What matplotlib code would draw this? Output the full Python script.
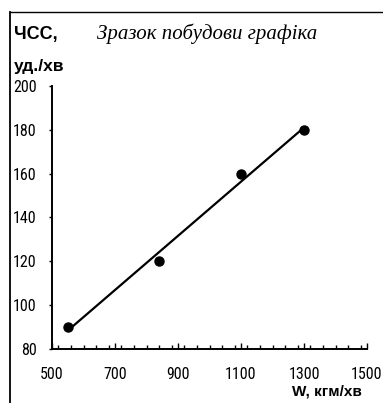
import numpy as np
import matplotlib
matplotlib.use("Agg")
import matplotlib.pyplot as plt
from matplotlib.lines import Line2D
from matplotlib.ticker import MultipleLocator

# Data
work = [550, 840, 1100, 1300]          # W, кгм/хв
hr = [90, 120, 160, 180]               # ЧСС, уд./хв
x_ticks = [500, 700, 900, 1100, 1300, 1500]
y_ticks = [80, 100, 120, 140, 160, 180, 200]

title = "Зразок побудови графіка"
ylabel_1 = "ЧСС,"
ylabel_2 = "уд./хв"
xlabel = "W, кгм/хв"

narrow = ['Roboto Condensed', 'DejaVu Sans']
bold_sans = ['Liberation Sans', 'DejaVu Sans']

fig = plt.figure(figsize=(3.83, 4.03), dpi=100)
ax = fig.add_axes([52/383, 1-349/403, (367-52)/383, (349-86)/403])

# trend line (least squares through the points)
k, b = np.polyfit(work, hr, 1)
xl = np.array([min(work), max(work)])
ax.plot(xl, k*xl + b, color='black', lw=1.6, zorder=2)
ax.plot(work, hr, 'o', color='black', ms=6.5, zorder=3)

ax.set_xlim(500, 1500)
ax.set_ylim(80, 200)
ax.set_xticks(x_ticks)
ax.set_yticks(y_ticks)
ax.xaxis.set_minor_locator(MultipleLocator(40))
for s in ['top', 'right']:
    ax.spines[s].set_visible(False)
for s in ['left', 'bottom']:
    ax.spines[s].set_linewidth(1.4)
ax.tick_params(axis='x', which='major', direction='in', length=4, width=1, pad=13, labelsize=11.5)
ax.tick_params(axis='x', which='minor', direction='in', length=3, width=1)
ax.tick_params(axis='y', which='major', direction='out', length=2, width=1, pad=9, labelsize=11.5)
for lab in ax.get_xticklabels() + ax.get_yticklabels():
    lab.set_family(narrow)

# texts
fig.text(14/383, 1-34/403, ylabel_1, fontsize=13, fontweight='bold', family=bold_sans, va='center', ha='left')
fig.text(14/383, 1-66/403, ylabel_2, fontsize=12.5, fontweight='bold', family=bold_sans, va='center', ha='left')
fig.text(97/383, 1-34/403, title, fontsize=15, style='italic', family=['Liberation Serif', 'DejaVu Serif'], va='center', ha='left')
fig.text(362/383, 1-391/403, xlabel, fontsize=11, fontweight='bold', family=bold_sans, va='center', ha='right')

# scanned frame lines
fig.add_artist(Line2D([10/383, 10/383], [0, 1-12/403], color='black', lw=1.3, transform=fig.transFigure))
fig.add_artist(Line2D([10/383, 1], [1-12/403, 1-12/403], color='black', lw=1.0, transform=fig.transFigure))

fig.savefig("out.png", dpi=100)
